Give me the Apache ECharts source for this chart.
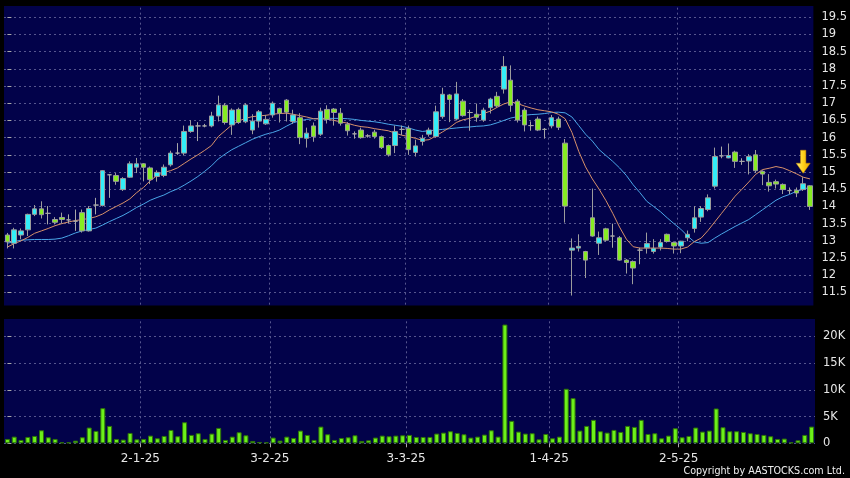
<!DOCTYPE html>
<html>
<head>
<meta charset="utf-8">
<script src="https://cdn.jsdelivr.net/npm/echarts@6/dist/echarts.min.js"></script>
<style>
html,body{margin:0;padding:0;background:#000;}
#chart{width:850px;height:478px;}
</style>
</head>
<body>
<div id="chart"></div>
<script>
const categories = [
 '2-12-24','3-12-24','4-12-24','5-12-24','6-12-24','9-12-24','10-12-24','11-12-24','12-12-24','13-12-24','16-12-24','17-12-24','18-12-24','19-12-24','20-12-24','23-12-24','24-12-24','27-12-24','30-12-24','31-12-24',
 '2-1-25','3-1-25','6-1-25','7-1-25','8-1-25','9-1-25','10-1-25','13-1-25','14-1-25','15-1-25','16-1-25','17-1-25','20-1-25','21-1-25','22-1-25','23-1-25','24-1-25','27-1-25','28-1-25',
 '3-2-25','4-2-25','5-2-25','6-2-25','7-2-25','10-2-25','11-2-25','12-2-25','13-2-25','14-2-25','17-2-25','18-2-25','19-2-25','20-2-25','21-2-25','24-2-25','25-2-25','26-2-25','27-2-25','28-2-25',
 '3-3-25','4-3-25','5-3-25','6-3-25','7-3-25','10-3-25','11-3-25','12-3-25','13-3-25','14-3-25','17-3-25','18-3-25','19-3-25','20-3-25','21-3-25','24-3-25','25-3-25','26-3-25','27-3-25','28-3-25','31-3-25',
 '1-4-25','2-4-25','3-4-25','7-4-25','8-4-25','9-4-25','10-4-25','11-4-25','14-4-25','15-4-25','16-4-25','17-4-25','22-4-25','23-4-25','24-4-25','25-4-25','28-4-25','29-4-25','30-4-25',
 '2-5-25','6-5-25','7-5-25','8-5-25','9-5-25','12-5-25','13-5-25','14-5-25','15-5-25','16-5-25','19-5-25','20-5-25','21-5-25','22-5-25','23-5-25','26-5-25','27-5-25','28-5-25','29-5-25','30-5-25'
];
const tickLabels = ['2-1-25','3-2-25','3-3-25','1-4-25','2-5-25'];

const opens = [13.17,12.93,13.17,13.32,13.77,13.93,13.80,13.62,13.68,13.61,
 13.57,13.82,13.29,14.04,14.03,14.92,14.90,14.49,14.85,15.14,
 15.24,15.12,14.87,14.90,15.21,15.55,15.55,16.18,16.34,16.34,
 16.34,16.63,16.94,16.37,16.82,16.46,16.22,16.48,16.40,16.66,
 16.85,17.09,16.47,16.58,15.98,16.34,16.10,16.82,16.83,16.71,
 16.39,16.11,16.22,16.05,16.16,16.03,15.77,15.77,16.24,16.27,
 15.57,15.89,16.10,16.03,16.61,17.24,16.54,17.06,16.73,16.68,
 16.51,16.87,17.20,17.41,17.67,17.06,16.80,16.35,16.54,16.24,
 16.34,16.54,15.84,12.73,12.79,12.69,13.67,12.93,13.35,13.14,
 13.09,12.44,12.40,12.73,12.80,12.69,12.82,13.19,12.95,12.85,
 13.09,13.36,13.69,13.91,14.59,15.47,15.41,15.58,15.31,15.32,
 15.50,15.02,14.70,14.72,14.64,14.46,14.47,14.49,14.60];
const closes = [12.97,13.32,13.29,13.77,13.93,13.76,13.80,13.54,13.62,13.61,
 13.57,13.29,13.94,14.04,15.04,14.92,14.73,14.81,15.24,15.24,
 15.14,14.78,14.99,15.14,15.55,15.55,16.18,16.34,16.34,16.34,
 16.63,16.95,16.44,16.80,16.44,16.95,16.48,16.75,16.53,17.00,
 16.71,16.74,16.66,16.00,16.13,16.03,16.77,16.53,16.73,16.42,
 16.20,16.11,16.00,16.05,16.03,15.71,15.50,16.18,16.24,15.65,
 15.76,15.98,16.22,16.75,17.26,17.11,17.27,16.64,16.73,16.59,
 16.80,17.12,16.92,18.07,16.94,16.51,16.37,16.35,16.22,16.24,
 16.58,16.30,14.01,12.79,12.84,12.44,13.14,13.09,13.02,13.14,
 12.44,12.37,12.21,12.73,12.92,12.78,12.95,12.98,12.85,12.99,
 13.19,13.67,13.94,14.25,15.45,15.47,15.48,15.31,15.31,15.45,
 15.04,14.94,14.60,14.65,14.49,14.46,14.39,14.66,14.00];
const lows = [12.78,12.78,13.05,13.14,13.72,13.65,13.48,13.48,13.50,13.50,
 13.29,13.24,13.27,13.77,14.00,14.25,14.63,14.45,14.83,14.97,
 14.73,14.65,14.72,14.85,15.16,15.50,15.48,16.14,15.90,16.30,
 16.30,16.47,16.38,16.08,16.40,16.42,16.10,16.29,16.37,16.58,
 16.44,16.47,16.40,15.81,15.71,15.88,16.05,16.41,16.35,16.35,
 16.06,15.97,15.97,16.00,15.97,15.67,15.45,15.55,16.08,15.50,
 15.45,15.77,16.03,16.00,16.55,16.45,16.50,16.61,16.20,16.46,
 16.46,16.70,16.88,17.28,16.75,16.44,16.18,16.20,16.19,15.97,
 16.27,16.22,13.53,11.41,12.69,11.92,13.12,12.59,12.98,12.80,
 12.42,12.05,11.74,12.32,12.63,12.63,12.72,12.95,12.63,12.64,
 12.99,13.24,13.55,13.86,14.52,15.40,15.40,15.12,15.21,14.93,
 14.97,14.62,14.43,14.52,14.36,14.36,14.27,14.45,13.90];
const highs = [13.23,13.38,13.36,13.79,14.04,14.15,14.01,13.69,13.82,13.77,
 13.91,13.91,14.01,14.25,15.06,14.94,14.97,14.85,15.31,15.41,
 15.26,15.16,15.05,15.22,15.62,15.84,16.35,16.51,16.45,16.40,
 16.75,17.22,17.00,16.85,16.87,17.00,16.68,16.80,16.66,17.05,
 16.87,17.12,16.81,16.71,16.29,16.44,16.87,16.94,16.86,16.86,
 16.45,16.18,16.29,16.10,16.23,16.06,15.80,16.35,16.35,16.35,
 15.94,16.08,16.29,16.93,17.45,17.27,17.62,17.12,16.81,16.99,
 16.87,17.16,17.33,18.37,18.10,17.12,16.87,16.47,16.61,16.28,
 16.66,16.61,15.96,13.07,13.19,12.71,14.52,13.27,13.38,13.50,
 13.14,12.47,12.43,12.80,13.24,13.05,13.05,13.21,12.98,13.00,
 13.30,14.01,14.01,14.35,15.71,15.74,15.83,15.62,15.40,15.52,
 15.64,15.05,14.94,14.78,14.67,14.55,14.55,14.85,14.62];
const maShort = [12.82,12.92,13.00,13.10,13.22,13.29,13.36,13.44,13.50,13.55,
 13.59,13.62,13.65,13.70,13.78,13.90,14.00,14.10,14.22,14.40,
 14.55,14.75,14.90,14.99,15.04,15.12,15.25,15.38,15.50,15.63,
 15.77,16.03,16.20,16.37,16.48,16.56,16.61,16.63,16.65,16.68,
 16.70,16.71,16.68,16.64,16.60,16.55,16.54,16.54,16.50,16.46,
 16.42,16.36,16.32,16.30,16.26,16.23,16.20,16.13,16.07,16.03,
 15.98,15.92,15.94,16.05,16.17,16.29,16.44,16.52,16.56,16.63,
 16.70,16.77,16.88,16.98,17.04,16.99,16.92,16.86,16.81,16.78,
 16.75,16.68,16.55,16.15,15.60,15.15,14.80,14.50,14.17,13.80,
 13.40,13.05,12.83,12.79,12.79,12.79,12.79,12.78,12.76,12.76,
 12.82,12.98,13.08,13.30,13.55,13.80,14.05,14.30,14.50,14.71,
 14.93,15.07,15.11,15.16,15.12,15.04,14.95,14.85,14.80];
const maLong = [12.93,12.98,13.02,13.03,13.04,13.04,13.04,13.05,13.08,13.15,
 13.23,13.29,13.33,13.37,13.46,13.56,13.65,13.74,13.85,13.97,
 14.07,14.18,14.26,14.33,14.43,14.51,14.62,14.74,14.87,15.02,
 15.18,15.38,15.52,15.65,15.75,15.85,15.95,16.03,16.10,16.15,
 16.22,16.33,16.43,16.49,16.53,16.55,16.56,16.56,16.56,16.56,
 16.55,16.53,16.50,16.48,16.46,16.43,16.39,16.36,16.33,16.28,
 16.22,16.18,16.20,16.22,16.24,16.26,16.28,16.30,16.31,16.33,
 16.34,16.37,16.43,16.50,16.57,16.61,16.65,16.67,16.68,16.70,
 16.73,16.74,16.72,16.60,16.35,16.10,15.90,15.65,15.48,15.31,
 15.12,14.90,14.63,14.40,14.15,14.00,13.85,13.67,13.50,13.34,
 13.14,12.97,12.93,12.95,13.08,13.20,13.31,13.42,13.52,13.62,
 13.76,13.90,14.04,14.18,14.28,14.35,14.44,14.50,14.56];
const volumes = [815,1250,630,1190,1380,2440,1130,815,190,190,
 500,1130,2950,2320,6580,3260,815,690,1940,750,
 815,1440,940,1380,2500,1320,3950,1570,1880,815,
 1820,2880,630,1250,2070,1500,440,250,190,1070,
 500,1250,1000,2380,1570,630,3130,1690,630,1000,
 1130,1500,440,560,1070,1440,1320,1440,1500,1570,
 1190,1190,1190,1820,2000,2260,1940,1690,1070,1250,
 1630,2440,1250,22240,4200,2190,1820,1880,750,1750,
 940,1250,10210,8460,2380,3260,4390,2260,2000,2510,
 2130,3260,3070,4390,1750,1880,940,1440,2820,1130,
 1380,2950,2190,2380,6520,3010,2260,2260,2130,1880,
 1750,1570,1320,815,880,190,560,1570,3130];
const arrowMark = { date: '29-5-25', price: 15.30 };

const candleData = categories.map((c, i) => [opens[i], closes[i], lows[i], highs[i]]);
const boundaries = tickLabels.map(l => categories.indexOf(l) - 0.5);

const NAVY = '#02024a';
const GRIDLINE = '#56568e';
const FONT = 'DejaVu Sans';

const chart = echarts.init(document.getElementById('chart'), null, {renderer: 'canvas'});
chart.setOption({
  animation: false,
  backgroundColor: '#000000',
  grid: [
    {left: 4, right: 35, top: -2.33, height: 312, show: true, backgroundColor: NAVY, borderWidth: 0},
    {left: 4, right: 35, top: 309.8, height: 133.5, show: true, backgroundColor: NAVY, borderWidth: 0}
  ],
  xAxis: [
    {type: 'category', gridIndex: 0, data: categories, show: false, position: 'bottom'},
    {type: 'category', gridIndex: 1, data: categories, show: false, position: 'top'},
    {type: 'value', gridIndex: 0, min: -0.5, max: categories.length - 0.5, show: false, position: 'top', splitLine: {show: false}},
    {type: 'value', gridIndex: 1, min: -0.5, max: categories.length - 0.5, position: 'bottom',
      axisLine: {show: false},
      splitLine: {show: false},
      axisTick: {show: true, length: 4, lineStyle: {color: '#aaaaaa'}, customValues: boundaries},
      axisLabel: {show: true, customValues: boundaries, color: '#e6e6e6', fontFamily: FONT, fontSize: 12, margin: 10,
        formatter: v => { const i = Math.round(v + 0.5); return categories[i] || ''; }}
    }
  ],
  yAxis: [
    {type: 'value', gridIndex: 0, position: 'right', min: 11, max: 20, interval: 0.5,
      axisLine: {show: false},
      axisTick: {show: true, length: 4, lineStyle: {color: '#aaaaaa'}},
      axisLabel: {color: '#e6e6e6', fontFamily: FONT, fontSize: 11.5, margin: 8, showMinLabel: false, showMaxLabel: false},
      splitLine: {show: true, lineStyle: {color: GRIDLINE, type: [2, 3], width: 1}}
    },
    {type: 'value', gridIndex: 1, position: 'right', min: 0, max: 25000, interval: 5000,
      axisLine: {show: false},
      axisTick: {show: true, length: 4, lineStyle: {color: '#aaaaaa'}},
      axisLabel: {color: '#e6e6e6', fontFamily: FONT, fontSize: 11.5, margin: 8, showMaxLabel: false,
        formatter: v => v === 0 ? '0' : (v / 1000) + 'K'},
      splitLine: {show: true, lineStyle: {color: GRIDLINE, type: [2, 3], width: 1}}
    }
  ],
  series: [
    {type: 'line', xAxisIndex: 2, yAxisIndex: 0, data: [], silent: true,
      markLine: {silent: true, symbol: 'none', label: {show: false}, animation: false,
        lineStyle: {color: GRIDLINE, type: [2, 3], width: 1},
        data: boundaries.map(b => ({xAxis: b}))}},
    {type: 'line', xAxisIndex: 3, yAxisIndex: 1, data: [], silent: true,
      markLine: {silent: true, symbol: 'none', label: {show: false}, animation: false,
        lineStyle: {color: GRIDLINE, type: [2, 3], width: 1},
        data: boundaries.map(b => ({xAxis: b}))}},
    {name: 'MA long', type: 'line', xAxisIndex: 0, yAxisIndex: 0, data: maLong, showSymbol: false, symbol: 'none',
      lineStyle: {color: '#4aa6e8', width: 1}, z: 3},
    {name: 'MA short', type: 'line', xAxisIndex: 0, yAxisIndex: 0, data: maShort, showSymbol: false, symbol: 'none',
      lineStyle: {color: '#d8916a', width: 1}, z: 3},
    {name: 'Price', type: 'candlestick', xAxisIndex: 0, yAxisIndex: 0, data: candleData, barWidth: 5, z: 4,
      itemStyle: {color: '#33eef8', color0: '#86ec22', borderColor: '#9c9c9c', borderColor0: '#9c9c9c', borderColorDoji: '#a8a8a8', borderWidth: 1},
      markPoint: {
        silent: true,
        label: {show: false},
        data: [{coord: [arrowMark.date, arrowMark.price],
          symbol: 'path://M4,0 L9,0 L9,13 L13,13 L6.5,23 L0,13 L4,13 Z',
          symbolSize: [14, 23],
          symbolOffset: [0, 0],
          itemStyle: {color: new echarts.graphic.LinearGradient(0, 0, 1, 0, [
            {offset: 0, color: '#fff07a'}, {offset: 0.5, color: '#ffd21a'}, {offset: 1, color: '#e8a000'}]),
            borderColor: '#c98a00', borderWidth: 0.5}}]
      }
    },
    {name: 'Volume', type: 'bar', xAxisIndex: 1, yAxisIndex: 1, data: volumes, barWidth: 5,
      itemStyle: {color: '#6cf01a', borderColor: '#2e7308', borderWidth: 1}}
  ],
  graphic: [
    {type: 'rect', z: 100, silent: true, shape: {x: 0, y: 0, width: 850, height: 6}, style: {fill: '#000000'}},
    {type: 'rect', z: 100, silent: true, shape: {x: 0, y: 305.5, width: 850, height: 13.5}, style: {fill: '#000000'}},
    {type: 'text', z: 100, right: 5, bottom: 2, silent: true,
      style: {text: 'Copyright by AASTOCKS.com Ltd.', fill: '#f0f0f0', font: '9.6px "DejaVu Sans"'}}
  ]
});
</script>
</body>
</html>
